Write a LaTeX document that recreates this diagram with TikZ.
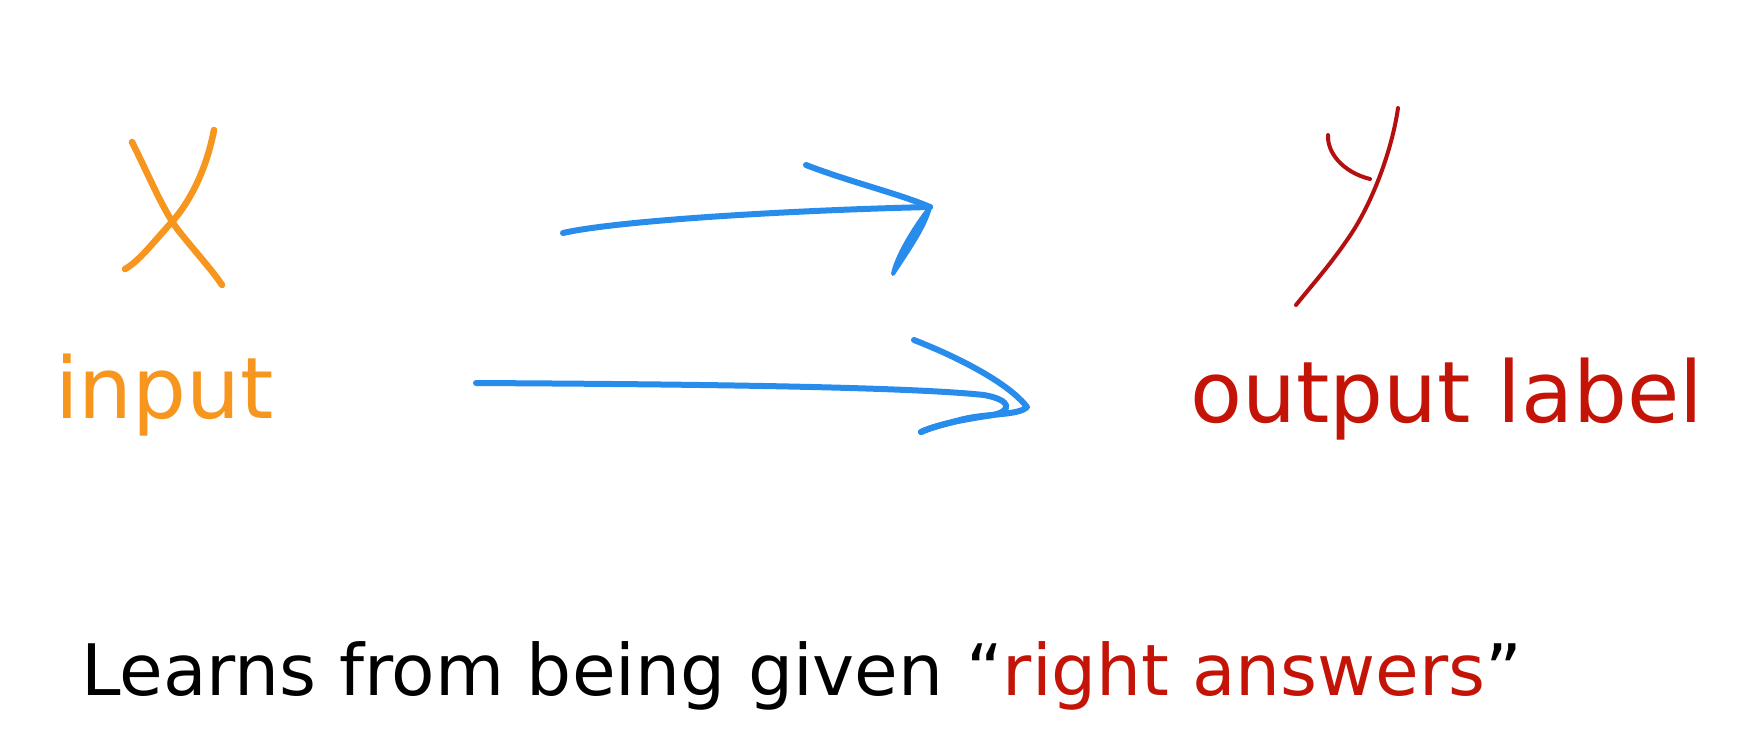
\documentclass[tikz,border=0pt]{standalone}
\usepackage{fontspec}
\setmainfont{DejaVu Sans}
\definecolor{inorange}{RGB}{247,150,30}
\definecolor{outred}{RGB}{196,20,8}
\definecolor{penred}{RGB}{180,16,16}
\definecolor{penblue}{RGB}{40,140,236}
\tikzset{
  pen/.style={line cap=round, line join=round},
  orangepen/.style={pen, draw=inorange, line width=6.5pt},
  bluepen/.style={pen, draw=penblue, line width=6pt},
  redpen/.style={pen, draw=penred, line width=4pt},
  bigtext/.style={anchor=base west, inner sep=0pt, font=\fontsize{85}{90}\selectfont},
  captext/.style={anchor=base west, inner sep=0pt, font=\fontsize{71}{76}\selectfont}
}
\begin{document}
\begin{tikzpicture}[x=1pt,y=-1pt]
\useasboundingbox (0,0) rectangle (1744,740);
\fill[white] (0,0) rectangle (1744,740);

% hand-drawn X
\coordinate (x1a) at (132,142);
\coordinate (x1b) at (222,285);
\coordinate (x2a) at (214,130);
\coordinate (x2b) at (125,269);
\draw[orangepen] (x1a) .. controls (150,178) and (163,210) .. (178,230) .. controls (198,255) and (212,270) .. (x1b);
\draw[orangepen] (x2a) .. controls (206,172) and (188,205) .. (170,224) .. controls (152,244) and (138,262) .. (x2b);

% labels
\node[bigtext, text=inorange] (input) at (55,418) {input};
\node[bigtext, text=outred] (output) at (1190,422) {output label};

% upper arrow
\coordinate (a1s) at (563,233);
\coordinate (a1t) at (930,207);
\coordinate (a1h) at (806,165);
\coordinate (a1l) at (893,274);
\draw[bluepen] (a1s) .. controls (620,220) and (800,210) .. (a1t);
\draw[bluepen] (a1h) .. controls (850,182) and (900,194) .. (a1t);
\filldraw[bluepen, fill=penblue, line width=4pt] (a1t) .. controls (925,228) and (905,255) .. (a1l) .. controls (896,258) and (912,230) .. cycle;

% lower arrow
\coordinate (a2s) at (476,383);
\coordinate (a2h) at (914,340);
\coordinate (a2t) at (1027,407);
\coordinate (a2e) at (921,432);
\draw[bluepen] (a2s) .. controls (650,384) and (900,386) .. (984,395) .. controls (1012,400) and (1012,411) .. (993,415) .. controls (960,420) and (935,425) .. (a2e);
\draw[bluepen] (a2h) .. controls (965,360) and (1010,385) .. (a2t) .. controls (1018,416) and (985,413) .. (960,420) .. controls (945,424) and (930,428) .. (a2e);

% hand-drawn y
\coordinate (y1a) at (1398,108);
\coordinate (y1b) at (1296,305);
\coordinate (y2a) at (1328,135);
\coordinate (y2b) at (1370,179);
\draw[redpen] (y1a) .. controls (1392,150) and (1372,205) .. (1347,240) .. controls (1330,265) and (1312,285) .. (y1b);
\draw[redpen] (y2a) .. controls (1327,152) and (1342,172) .. (y2b);

% caption
\node[captext] (caption) at (81,695) {Learns from being given “\textcolor{outred}{right answers}”};
\end{tikzpicture}
\end{document}
